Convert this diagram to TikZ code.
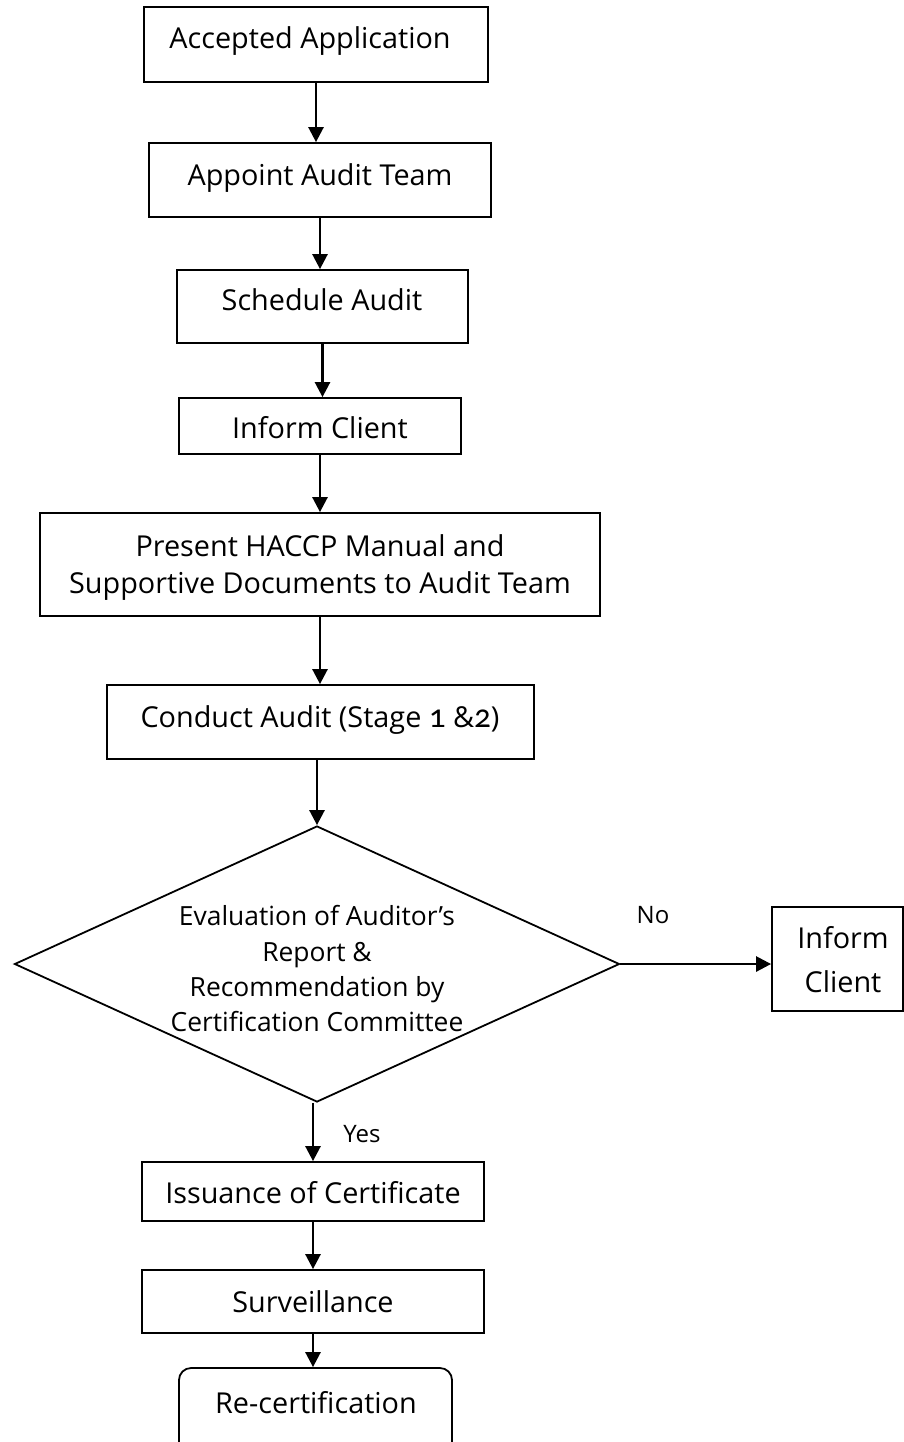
\documentclass[tikz,border=0pt]{standalone}
\usepackage{fontspec}
\setmainfont{Open Sans}
\newfontfamily\numfont[Numbers=OldStyle,Scale=1.15]{Carlito}
\usetikzlibrary{arrows.meta,fit,shapes.geometric}
\begin{document}
\begin{tikzpicture}[x=0.5pt,y=-0.5pt,
  box/.style={draw,line width=0.9pt,inner sep=0pt},
  rbox/.style={draw,line width=0.9pt,inner sep=0pt,rounded corners=6pt},
  txt/.style={font=\fontsize{14.4}{17}\selectfont,anchor=base,inner sep=0pt},
  dtxt/.style={font=\fontsize{13.2}{16}\selectfont,anchor=base,inner sep=0pt},
  lbl/.style={font=\fontsize{12}{14}\selectfont,anchor=base,inner sep=0pt},
  arr/.style={line width=1.3pt,-{Triangle[length=7.5pt,width=7.5pt]}}]
\useasboundingbox (0,0) rectangle (904,1442);

% boxes
\node[box,fit={(144,7)(488,82)}] (b1) {};
\node[box,fit={(149,143)(491,217)}] (b2) {};
\node[box,fit={(177,270)(468,343)}] (b3) {};
\node[box,fit={(179,398)(461,454)}] (b4) {};
\node[box,fit={(40,513)(600,616)}] (b5) {};
\node[box,fit={(107,685)(534,759)}] (b6) {};
\node[diamond,draw,line width=0.9pt,inner sep=0pt,minimum width=302.5pt,minimum height=138pt] (d) at (317,964) {};
\node[box,fit={(772,907)(903,1011)}] (ic) {};
\node[box,fit={(142,1162)(484,1221)}] (iss) {};
\node[box,fit={(142,1270)(484,1333)}] (surv) {};
\node[rbox,fit={(179,1368)(452,1480)}] (rec) {};

% texts
\node[txt] (t1) at (310,48) {Accepted Application};
\node[txt] (t2) at (320,185) {Appoint Audit Team};
\node[txt] (t3) at (322,310) {Schedule Audit};
\node[txt] (t4) at (320,438) {Inform Client};
\node[txt] (t5a) at (320,556) {Present HACCP Manual and};
\node[txt] (t5b) at (320,593) {Supportive Documents to Audit Team};
\node[txt] (t6) at (320,727) {Conduct Audit (Stage {\numfont 1} \&{\numfont 2})};
\node[dtxt] (d1) at (317,925) {Evaluation of Auditor’s};
\node[dtxt] (d2) at (317,961) {Report \&};
\node[dtxt] (d3) at (317,996) {Recommendation by};
\node[dtxt] (d4) at (317,1031) {Certification Committee};
\node[txt] (ic1) at (843,948) {Inform};
\node[txt] (ic2) at (843,992) {Client};
\node[lbl] (no) at (653,923) {No};
\node[lbl] (yes) at (362,1142) {Yes};
\node[txt] (t7) at (313,1203) {Issuance of Certificate};
\node[txt] (t8) at (313,1312) {Surveillance};
\node[txt] (t9) at (316,1413) {Re-certification};

% connectors
\draw[arr] (b1.south) -- (b1.south |- b2.north);
\draw[arr] (b2.south) -- (b2.south |- b3.north);
\draw[arr] (b3.south) -- (b3.south |- b4.north);
\draw[arr] (b4.south) -- (b4.south |- b5.north);
\draw[arr] (b5.south) -- (b5.south |- b6.north);
\draw[arr] (d.north |- b6.south) -- (d.north);
\draw[arr] (d.east) -- (d.east -| ic.west);
\draw[arr] (iss.north |- d.south) -- (iss.north);
\draw[arr] (iss.south) -- (iss.south |- surv.north);
\draw[arr] (surv.south) -- (surv.south |- rec.north);
\end{tikzpicture}
\end{document}
